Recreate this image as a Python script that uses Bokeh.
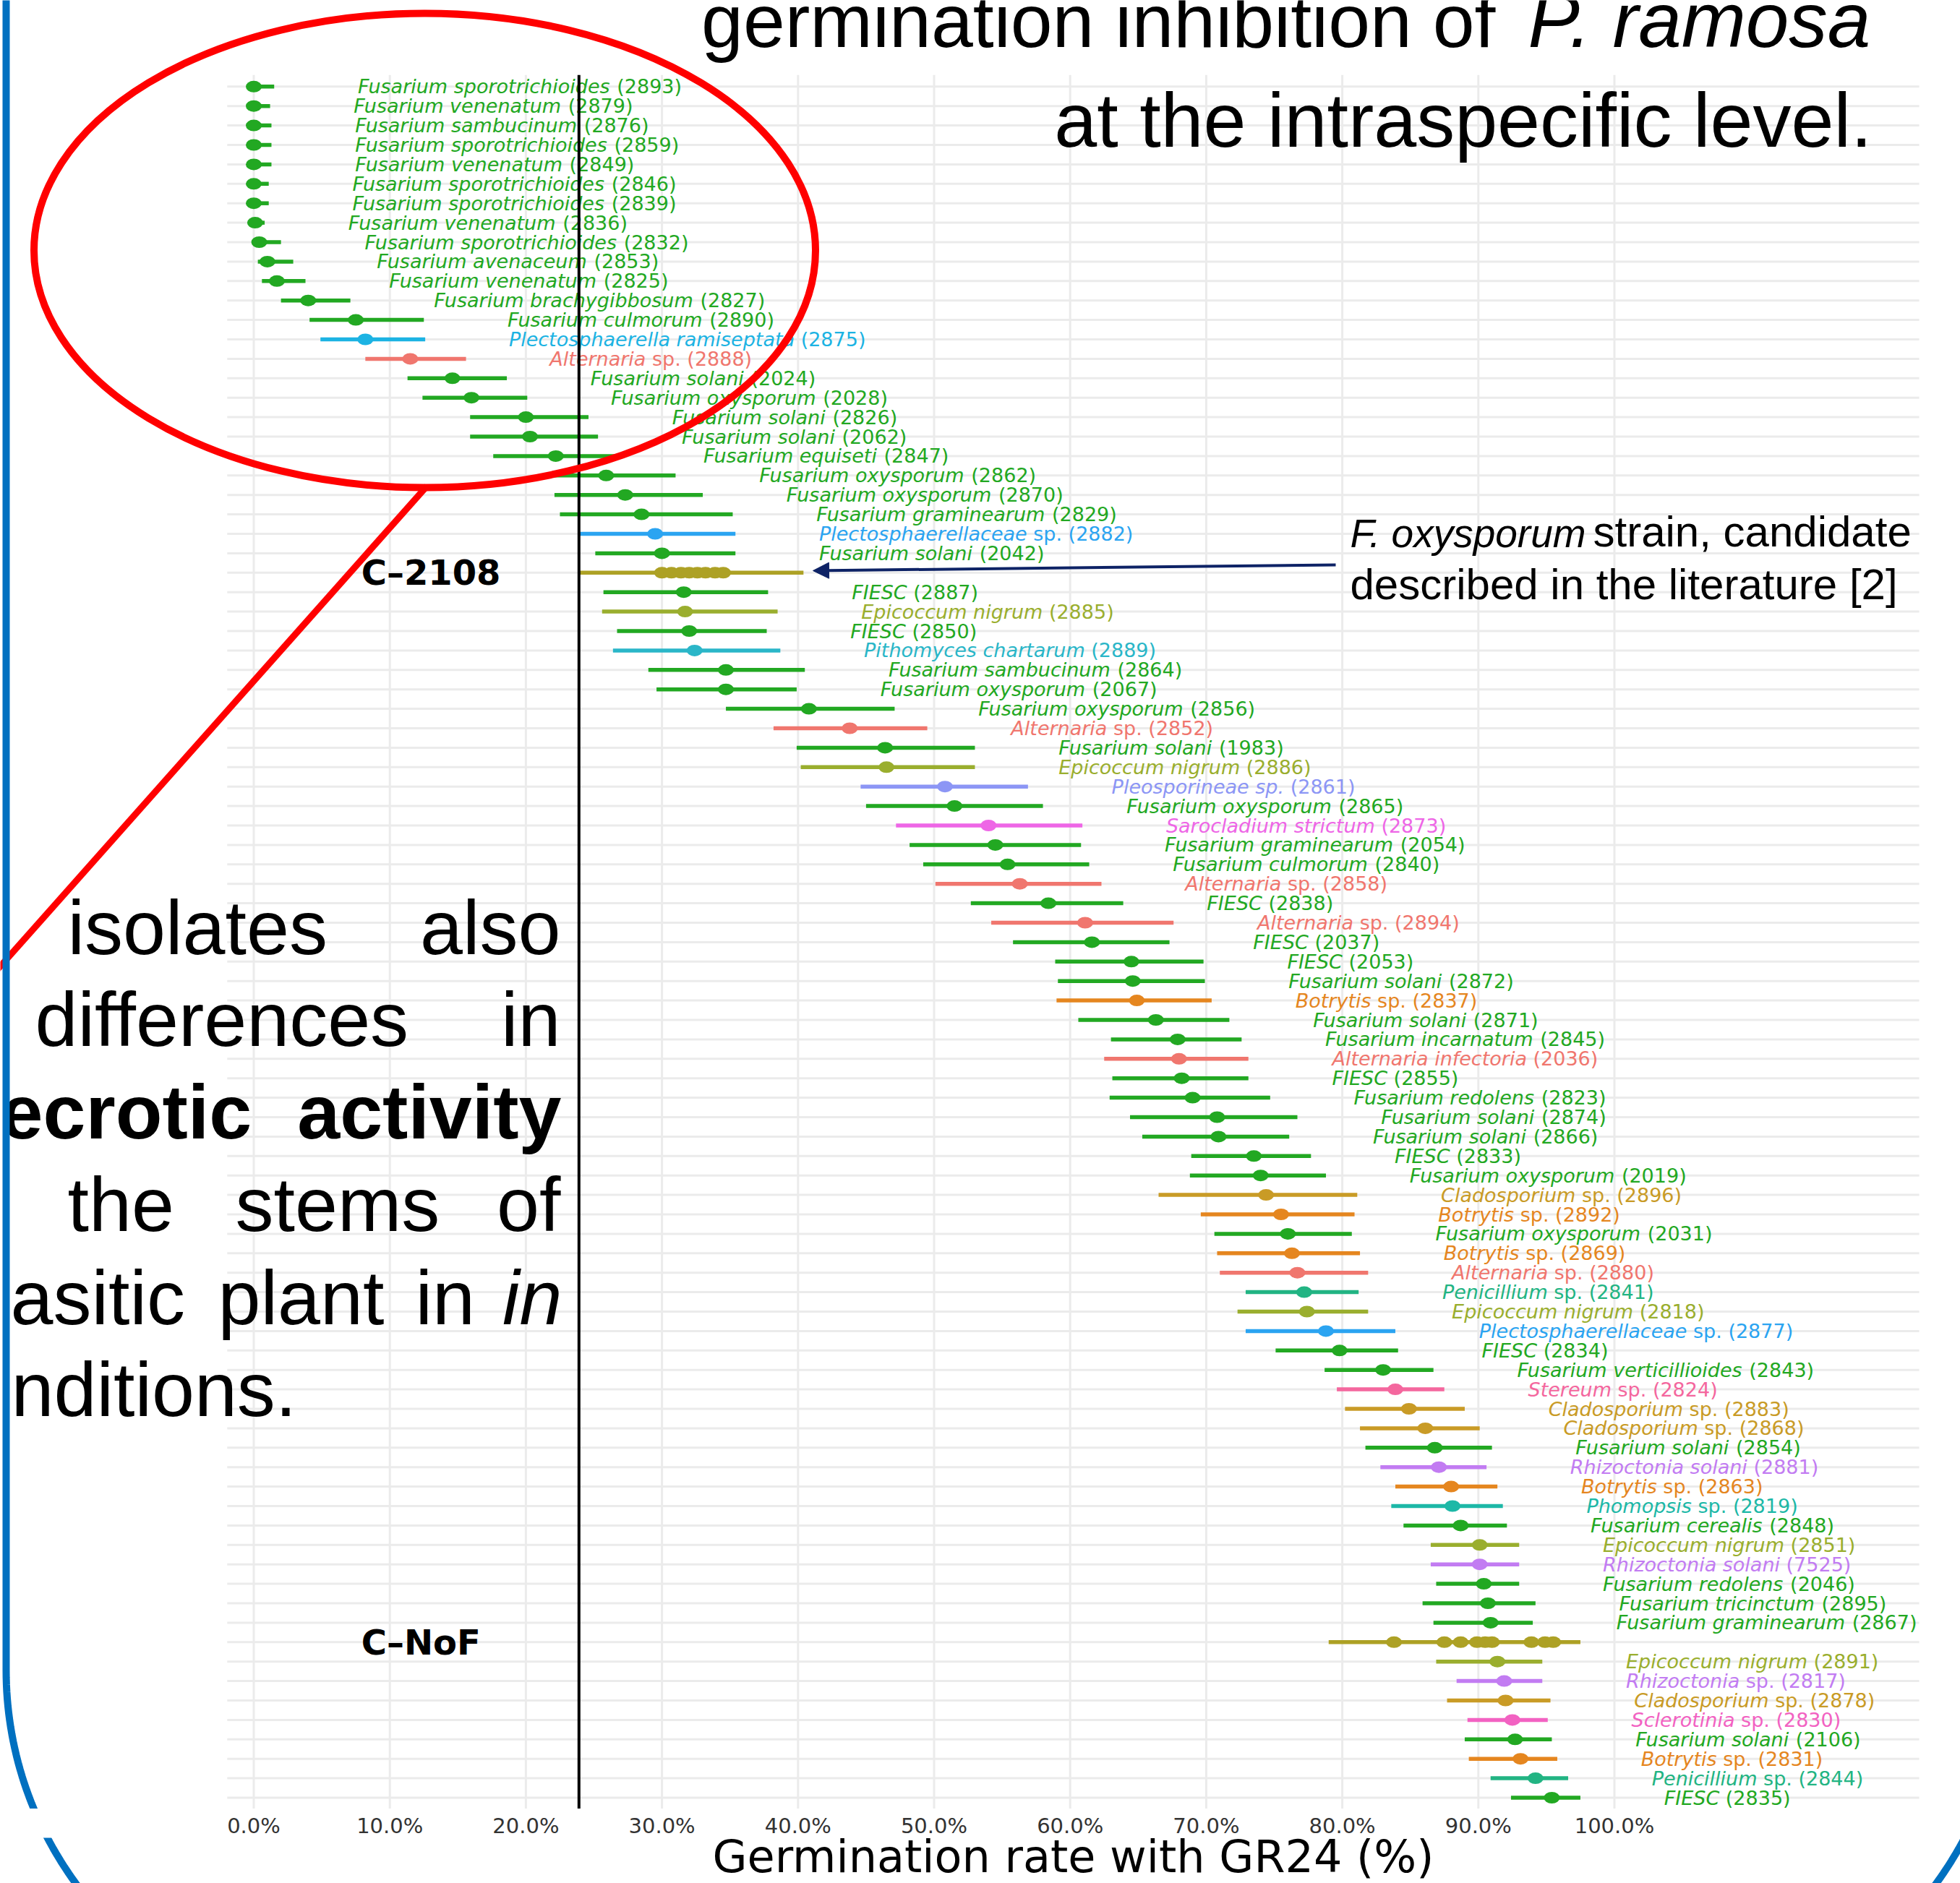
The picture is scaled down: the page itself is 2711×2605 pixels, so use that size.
import numpy as np
from bokeh.plotting import figure
from bokeh.layouts import column, row
from bokeh.models import Range1d, FixedTicker, PrintfTickFormatter, Arrow, NormalHead
from bokeh.core.properties import value
from bokeh.embed import file_html
from bokeh.resources import INLINE

# ------------------------------------------------------------------ data
labels = [
    "Fusarium sporotrichioides", "Fusarium venenatum", "Fusarium sambucinum", "Fusarium sporotrichioides",
    "Fusarium venenatum", "Fusarium sporotrichioides", "Fusarium sporotrichioides", "Fusarium venenatum",
    "Fusarium sporotrichioides", "Fusarium avenaceum", "Fusarium venenatum", "Fusarium brachygibbosum",
    "Fusarium culmorum", "Plectosphaerella ramiseptata", "Alternaria sp.", "Fusarium solani",
    "Fusarium oxysporum", "Fusarium solani", "Fusarium solani", "Fusarium equiseti",
    "Fusarium oxysporum", "Fusarium oxysporum", "Fusarium graminearum", "Plectosphaerellaceae sp.",
    "Fusarium solani", "C–2108", "FIESC", "Epicoccum nigrum",
    "FIESC", "Pithomyces chartarum", "Fusarium sambucinum", "Fusarium oxysporum",
    "Fusarium oxysporum", "Alternaria sp.", "Fusarium solani", "Epicoccum nigrum",
    "Pleosporineae sp.", "Fusarium oxysporum", "Sarocladium strictum", "Fusarium graminearum",
    "Fusarium culmorum", "Alternaria sp.", "FIESC", "Alternaria sp.",
    "FIESC", "FIESC", "Fusarium solani", "Botrytis sp.",
    "Fusarium solani", "Fusarium incarnatum", "Alternaria infectoria", "FIESC",
    "Fusarium redolens", "Fusarium solani", "Fusarium solani", "FIESC",
    "Fusarium oxysporum", "Cladosporium sp.", "Botrytis sp.", "Fusarium oxysporum",
    "Botrytis sp.", "Alternaria sp.", "Penicillium sp.", "Epicoccum nigrum",
    "Plectosphaerellaceae sp.", "FIESC", "Fusarium verticillioides", "Stereum sp.",
    "Cladosporium sp.", "Cladosporium sp.", "Fusarium solani", "Rhizoctonia solani",
    "Botrytis sp.", "Phomopsis sp.", "Fusarium cerealis", "Epicoccum nigrum",
    "Rhizoctonia solani", "Fusarium redolens", "Fusarium tricinctum", "Fusarium graminearum",
    "C–NoF", "Epicoccum nigrum", "Rhizoctonia sp.", "Cladosporium sp.",
    "Sclerotinia sp.", "Fusarium solani", "Botrytis sp.", "Penicillium sp.",
    "FIESC",
]
isolates = [
    "2893", "2879", "2876", "2859", "2849", "2846", "2839", "2836", "2832", "2853",
    "2825", "2827", "2890", "2875", "2888", "2024", "2028", "2826", "2062", "2847",
    "2862", "2870", "2829", "2882", "2042", "", "2887", "2885", "2850", "2889",
    "2864", "2067", "2856", "2852", "1983", "2886", "2861", "2865", "2873", "2054",
    "2840", "2858", "2838", "2894", "2037", "2053", "2872", "2837", "2871", "2845",
    "2036", "2855", "2823", "2874", "2866", "2833", "2019", "2896", "2892", "2031",
    "2869", "2880", "2841", "2818", "2877", "2834", "2843", "2824", "2883", "2868",
    "2854", "2881", "2863", "2819", "2848", "2851", "7525", "2046", "2895", "2867",
    "", "2891", "2817", "2878", "2830", "2106", "2831", "2844", "2835",
]
mean_pct = [
    0.0, 0.0, 0.0, 0.0, 0.0, 0.0, 0.0, 0.1, 0.4, 1.0,
    1.7, 4.0, 7.5, 8.2, 11.5, 14.6, 16.0, 20.0, 20.3, 22.2,
    25.9, 27.3, 28.5, 29.5, 30.0, None, 31.6, 31.7, 32.0, 32.4,
    34.7, 34.7, 40.8, 43.8, 46.4, 46.5, 50.8, 51.5, 54.0, 54.5,
    55.4, 56.3, 58.4, 61.1, 61.6, 64.5, 64.6, 64.9, 66.3, 67.9,
    68.0, 68.2, 69.0, 70.8, 70.9, 73.5, 74.0, 74.4, 75.5, 76.0,
    76.3, 76.7, 77.2, 77.4, 78.8, 79.8, 83.0, 83.9, 84.9, 86.1,
    86.8, 87.1, 88.0, 88.1, 88.7, 90.1, 90.1, 90.4, 90.7, 90.9,
    None, 91.4, 91.9, 92.0, 92.5, 92.7, 93.1, 94.2, 95.4,
]
low_pct = [
    0.0, 0.0, 0.0, 0.0, 0.0, 0.0, 0.0, 0.0, 0.0, 0.3,
    0.6, 2.0, 4.1, 4.9, 8.2, 11.3, 12.4, 15.9, 15.9, 17.6,
    21.0, 22.1, 22.5, 23.9, 25.1, 23.9, 25.7, 25.6, 26.7, 26.4,
    29.0, 29.6, 34.7, 38.2, 39.9, 40.2, 44.6, 45.0, 47.2, 48.2,
    49.2, 50.1, 52.7, 54.2, 55.8, 58.9, 59.1, 59.0, 60.6, 63.0,
    62.5, 63.1, 62.9, 64.4, 65.3, 68.9, 68.8, 66.5, 69.6, 70.6,
    70.8, 71.0, 72.9, 72.3, 72.9, 75.1, 78.7, 79.6, 80.2, 81.3,
    81.7, 82.8, 83.9, 83.6, 84.5, 86.5, 86.5, 86.9, 85.9, 86.7,
    79.0, 86.9, 88.4, 87.7, 89.2, 89.0, 89.3, 90.9, 92.4,
]
high_pct = [
    1.5, 1.2, 1.3, 1.3, 1.3, 1.1, 1.1, 0.8, 2.0, 2.9,
    3.8, 7.1, 12.5, 12.6, 15.6, 18.6, 20.1, 24.6, 25.3, 26.9,
    31.0, 33.0, 35.2, 35.4, 35.4, 40.4, 37.8, 38.5, 37.7, 38.7,
    40.5, 39.9, 47.1, 49.5, 53.0, 53.0, 56.9, 58.0, 60.9, 60.8,
    61.4, 62.3, 63.9, 67.6, 67.3, 69.8, 69.9, 70.4, 71.7, 72.6,
    73.1, 73.1, 74.7, 76.7, 76.1, 77.7, 78.8, 81.1, 80.9, 80.7,
    81.3, 81.9, 81.2, 81.9, 83.9, 84.1, 86.7, 87.5, 89.0, 90.1,
    91.0, 90.6, 91.4, 91.8, 92.1, 93.0, 93.0, 93.0, 94.2, 94.0,
    97.5, 94.7, 94.7, 95.3, 95.1, 95.4, 95.8, 96.6, 97.5,
]
control_2108_pct = [30.0, 30.7, 31.4, 32.0, 32.6, 33.2, 33.9, 34.5]
control_nof_pct = [83.8, 87.5, 88.7, 89.9, 90.5, 91.0, 93.9, 94.9, 95.5]
x_ticks = [0, 10, 20, 30, 40, 50, 60, 70, 80, 90, 100]
threshold_pct = 23.9

# ------------------------------------------------------------------ style
GENUS_COLORS = {
    "Alternaria": "#F0766E", "Botrytis": "#E5861F", "Cladosporium": "#C99B26",
    "C–2108": "#ADA125", "C–NoF": "#ADA125", "Epicoccum": "#9AAE2E",
    "Fusarium": "#22A822", "FIESC": "#22A822", "Penicillium": "#22B483",
    "Phomopsis": "#1DB8A7", "Pithomyces": "#2AB6C8", "Plectosphaerella": "#1CB3E3",
    "Plectosphaerellaceae": "#2BA4F1", "Pleosporineae": "#8C96F5", "Rhizoctonia": "#C27CF2",
    "Sarocladium": "#EE66E6", "Sclerotinia": "#F262C2", "Stereum": "#F4679E",
}
GRID = "#EBEBEB"
NAVY = "#0E2366"
RED = "#FF0000"
BLUE = "#0070C0"

# page-pixel calibration of the chart panel
PX0, PPX = 350.5, 18.82      # page x of 0 %, pixels per %
PY1, PPY = 119.3, 26.9       # page y of row 1, pixels per row
PAGE_W, PAGE_H = 2711, 2605
PANEL_BOTTOM_PX = 2502       # bottom of the plotting panel (page px)
AXIS_H = 40                  # room for the tick labels under the panel
STRIP_L, STRIP_R = 300, 2600 # page x span of the axis figure in the bottom strip


def X(px):
    return (px - PX0) / PPX


def Y(py):
    return 1 + (py - PY1) / PPY


def bare(fig):
    fig.outline_line_color = None
    fig.xgrid.visible = False
    fig.ygrid.visible = False
    fig.background_fill_color = "white"
    fig.border_fill_color = "white"


p = figure(width=PAGE_W, height=PANEL_BOTTOM_PX,
           x_range=Range1d(X(0), X(PAGE_W)),
           y_range=Range1d(Y(PANEL_BOTTOM_PX), Y(0)),
           output_backend="svg", toolbar_location=None,
           x_axis_location=None, y_axis_location=None,
           min_border_left=0, min_border_right=0, min_border_top=0, min_border_bottom=0)
bare(p)

# bottom strip: [blank | x axis + axis title | blank]; all frames start under the axis band
strip_h = PAGE_H - PANEL_BOTTOM_PX
strip_y = Range1d(PAGE_H, PANEL_BOTTOM_PX + AXIS_H)


def strip_fig(x0, x1, axis):
    return figure(width=x1 - x0, height=strip_h, x_range=Range1d(X(x0), X(x1)),
                  y_range=strip_y, output_backend="svg", toolbar_location=None,
                  x_axis_location=axis, y_axis_location=None,
                  min_border_left=0, min_border_right=0, min_border_top=AXIS_H,
                  min_border_bottom=0)


qa = strip_fig(0, STRIP_L, None)
qb = strip_fig(STRIP_L, STRIP_R, "above")
qc = strip_fig(STRIP_R, PAGE_W, None)
for f in (qa, qb, qc):
    bare(f)
ax = qb.xaxis[0]
ax.ticker = FixedTicker(ticks=x_ticks)
ax.formatter = PrintfTickFormatter(format="%.1f%%")
ax.axis_line_color = None
ax.major_tick_line_color = None
ax.minor_tick_line_color = None
ax.major_tick_in = 0
ax.major_tick_out = 0
ax.minor_tick_in = 0
ax.minor_tick_out = 0
ax.major_label_text_font = "DejaVu Sans"
ax.major_label_text_font_size = "29px"
ax.major_label_text_color = "#333333"
ax.major_label_standoff = 0

n = len(labels)
rows = list(range(1, n + 1))
PANEL_L, PANEL_R, PANEL_T, PANEL_B = -1.95, 122.4, 0.4, n + 0.6

# panel grid
p.segment(x0=[PANEL_L] * n, x1=[PANEL_R] * n, y0=rows, y1=rows, line_color=GRID, line_width=3)
p.segment(x0=x_ticks, x1=x_ticks, y0=[PANEL_T] * len(x_ticks), y1=[PANEL_B] * len(x_ticks),
          line_color=GRID, line_width=3)

colors = [GENUS_COLORS[l.split()[0]] for l in labels]

# confidence bars
p.segment(x0=low_pct, x1=high_pct, y0=rows, y1=rows, line_color=colors, line_width=5.5)

# point estimates
mx = [m for m in mean_pct if m is not None]
my = [r for r, m in zip(rows, mean_pct) if m is not None]
mc = [c for c, m in zip(colors, mean_pct) if m is not None]
p.ellipse(x=mx, y=my, width=22, height=16, width_units="screen", height_units="screen",
          fill_color=mc, line_color=None)
r2108 = labels.index("C–2108") + 1
rnof = labels.index("C–NoF") + 1
cx = control_2108_pct + control_nof_pct
cy = [r2108] * len(control_2108_pct) + [rnof] * len(control_nof_pct)
p.ellipse(x=cx, y=cy, width=22, height=16, width_units="screen", height_units="screen",
          fill_color=GENUS_COLORS["C–2108"], line_color=None)

# label text widths (DejaVu Sans advances, 2048 upm)
W = dict(zip("abcdefghijklmnopqrstuvwxyz",
             [1255, 1300, 1126, 1300, 1260, 721, 1300, 1298, 569, 569, 1186, 569, 1995,
              1298, 1253, 1300, 1300, 842, 1067, 803, 1298, 1212, 1675, 1212, 1212, 1075]))
W.update(dict(zip("ABCDEFGHIJKLMNOPQRSTUVWXYZ",
                  [1401, 1405, 1430, 1577, 1294, 1178, 1587, 1540, 604, 604, 1343, 1141, 1767,
                   1532, 1612, 1235, 1612, 1423, 1300, 1251, 1499, 1401, 2025, 1403, 1251, 1403])))
W.update({" ": 651, ".": 651, "(": 799, ")": 799})
for d in "0123456789":
    W[d] = 1303
LABEL_SIZE = 27
LABEL_GAP = 6.15


def text_px(s, size):
    return sum(W.get(ch, 1250) for ch in s) / 2048 * size


it_x, it_y, it_t, it_c = [], [], [], []
ro_x, ro_y, ro_t, ro_c = [], [], [], []
for i, (nm, iso) in enumerate(zip(labels, isolates)):
    if nm.startswith("C–"):
        continue
    genus = nm.split()[0]
    if nm.endswith(" sp.") and genus != "Pleosporineae":
        ital, rom = genus, "sp. (" + iso + ")"
    else:
        ital, rom = nm, "(" + iso + ")"
    x0 = high_pct[i] + LABEL_GAP
    it_x.append(x0); it_y.append(rows[i]); it_t.append(ital); it_c.append(colors[i])
    ro_x.append(x0 + text_px(ital + " ", LABEL_SIZE) / PPX)
    ro_y.append(rows[i]); ro_t.append(rom); ro_c.append(colors[i])

p.text(x=it_x, y=it_y, text=it_t, text_color=it_c, text_font=value("DejaVu Sans"),
       text_font_size=f"{LABEL_SIZE}px", text_font_style="italic", text_baseline="middle",
       text_align="left")
p.text(x=ro_x, y=ro_y, text=ro_t, text_color=ro_c, text_font=value("DejaVu Sans"),
       text_font_size=f"{LABEL_SIZE}px", text_baseline="middle", text_align="left")

# control labels
p.text(x=[7.9, 7.9], y=[r2108, rnof], text=["C–2108", "C–NoF"], text_color="black",
       text_font=value("DejaVu Sans"), text_font_size="48px", text_font_style="bold",
       text_baseline="middle", text_align="left")

# reference line
p.segment(x0=[threshold_pct], x1=[threshold_pct], y0=[PANEL_T], y1=[PANEL_B],
          line_color="black", line_width=4)

# axis title in the strip below the panel
qb.text(x=[(PANEL_L + PANEL_R) / 2], y=[2590 - 0.36 * 62], text=["Germination rate with GR24 (%)"],
        text_color="black", text_font=value("DejaVu Sans"), text_font_size="62px",
        text_align="center", text_baseline="middle")


# ------------------------------------------------------------------ slide decorations
def txt(xp, yb, s, size, align="left", style="normal", color="black", font="Liberation Sans"):
    # yb = page y of the text baseline
    p.text(x=[X(xp)], y=[Y(yb - 0.36 * size)], text=[s], text_color=color, text_font=value(font),
           text_font_size=f"{size}px", text_font_style=style, text_align=align,
           text_baseline="middle")


# title (top right)
txt(2068, 66, "germination inhibition of", 104, align="right")
txt(2113, 66, "P. ramosa", 107, style="italic")
txt(2589, 204, "at the intraspecific level.", 106, align="right")

# annotation on the right
txt(1867, 757, "F. oxysporum", 55, style="italic")
txt(2203, 757, "strain, candidate", 60)
txt(1867, 830, "described in the literature [2]", 60)
p.add_layout(Arrow(end=NormalHead(size=22, fill_color=NAVY, line_color=NAVY),
                   x_start=X(1847), y_start=Y(781), x_end=X(1124), y_end=Y(789),
                   line_color=NAVY, line_width=4))

# justified text on the left
LS = 106
txt(93, 1321, "isolates", LS); txt(775, 1321, "also", LS, align="right")
txt(48, 1448, "differences", LS); txt(775, 1448, "in", LS, align="right")
txt(0, 1576, "ecrotic", LS, style="bold"); txt(776, 1576, "activity", LS, align="right", style="bold")
txt(93, 1704, "the", LS); txt(325, 1704, "stems", LS); txt(775, 1704, "of", LS, align="right")
txt(14, 1833, "asitic", LS); txt(301, 1833, "plant", LS); txt(574, 1833, "in", LS)
txt(777, 1833, "in", LS, align="right", style="italic")
txt(15, 1960, "nditions.", LS)

# red ellipse + connector
p.ellipse(x=[X(587)], y=[Y(346)], width=[1081], height=[656], width_units="screen",
          height_units="screen", fill_color=None, line_color=RED, line_width=10)
p.line(x=[X(590), X(-30)], y=[Y(672), Y(1370)], line_color=RED, line_width=9)

# blue rounded frame of the slide (drawn in every part of the page it crosses)
R = 500.0
th1 = np.linspace(np.pi, np.pi / 2, 80)
th2 = np.linspace(np.pi / 2, 0, 80)
bx = np.concatenate([[8, 8], 508 + R * np.cos(th1), 2274 + R * np.cos(th2), [2774]])
by = np.concatenate([[-40, 2310], 2310 + R * np.sin(th1), 2310 + R * np.sin(th2), [-40]])
bxd = [X(v) for v in bx]
p.line(x=bxd, y=[Y(v) for v in by], line_color=BLUE, line_width=10)
for f in (qa, qc):
    f.line(x=bxd, y=list(by), line_color=BLUE, line_width=10)

open("out.html", "w").write(file_html(column(p, row(qa, qb, qc, spacing=0), spacing=0), INLINE))
